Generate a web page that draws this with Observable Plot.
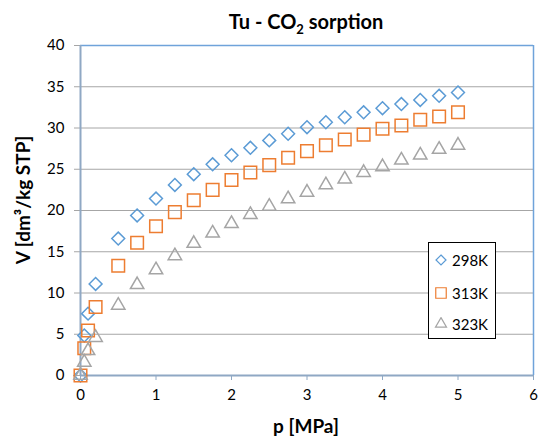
<!DOCTYPE html>
<html><head><meta charset="utf-8">
<script src="https://cdn.jsdelivr.net/npm/d3@7"></script>
<script src="https://cdn.jsdelivr.net/npm/@observablehq/plot@0.6"></script>
<style>
body{margin:0;background:#fff;font-family:Lato,"Open Sans",sans-serif;}
#wrap{position:relative;width:538px;height:437px;overflow:hidden;}
.ov{position:absolute;color:#000;font-weight:bold;white-space:nowrap;}
#legend{position:absolute;left:428px;top:242px;width:68px;height:97px;box-sizing:border-box;border:1px solid #000;background:#fff;}
.lrow{position:absolute;left:0;height:18px;width:66px;}
.lrow svg{position:absolute;left:5px;top:2px;}
.lrow span{position:absolute;left:23px;top:0;font-size:15px;line-height:18px;color:#000;}
</style></head><body>
<div id="wrap"></div>
<script>
// ---- data ----
const pressure = [0, 0.05, 0.1, 0.2, 0.5, 0.75, 1, 1.25, 1.5, 1.75, 2, 2.25, 2.5, 2.75, 3, 3.25, 3.5, 3.75, 4, 4.25, 4.5, 4.75, 5];
const v298 = [0, 4.85, 7.5, 11.1, 16.6, 19.4, 21.45, 23.1, 24.4, 25.6, 26.7, 27.6, 28.5, 29.3, 30.1, 30.7, 31.3, 31.9, 32.4, 32.9, 33.4, 33.9, 34.3];
const v313 = [0, 3.3, 5.45, 8.3, 13.3, 16.1, 18.1, 19.8, 21.25, 22.5, 23.7, 24.6, 25.5, 26.4, 27.2, 27.9, 28.6, 29.2, 29.9, 30.3, 31.0, 31.4, 31.9];
const v323 = [0, 1.6, 3.0, 4.6, 8.5, 11.0, 12.8, 14.5, 16.0, 17.25, 18.4, 19.5, 20.5, 21.4, 22.2, 23.1, 23.8, 24.6, 25.3, 26.1, 26.7, 27.4, 27.9];
const seriesNames = ["298K", "313K", "323K"];
const xTicks = [0, 1, 2, 3, 4, 5, 6];
const yTicks = [0, 5, 10, 15, 20, 25, 30, 35, 40];
const titleMain = "Tu - CO";
const titleSub = "2";
const titleEnd = " sorption";
const xLabel = "p [MPa]";
const yLabel = "V [dm³/kg STP]";

// ---- styling ----
const series = [v298, v313, v323];
const colors = ["#5B9BD5", "#ED7D31", "#A5A5A5"];
const symbols = ["diamond2", "square2", "triangle2"];
const radii = [5.8, 8.0, 6.4];
const d3Symbols = [d3.symbolDiamond2, d3.symbolSquare2, d3.symbolTriangle2];
const legendSizes = [64, 140, 87];

const chart = Plot.plot({
  width: 538,
  height: 437,
  marginLeft: 80,
  marginRight: 5,
  marginTop: 45,
  marginBottom: 62,
  style: {fontFamily: "Lato, 'Open Sans', sans-serif", fontSize: "15px", background: "#fff", overflow: "visible"},
  x: {domain: [0, 6]},
  y: {domain: [0, 40]},
  marks: [
    Plot.ruleY(yTicks.filter(v => v > 0 && v < 40), {stroke: "#A6A6A6", strokeWidth: 1}),
    Plot.ruleY([40], {stroke: "#6FA3DA", strokeWidth: 1.5}),
    Plot.ruleX([6], {stroke: "#6FA3DA", strokeWidth: 1.5}),
    Plot.axisY({ticks: yTicks, tickFormat: d => String(d), tickSize: 6, tickPadding: 10, label: null, stroke: "#A6A6A6", fill: "#000", fontSize: 15}),
    Plot.axisX({ticks: xTicks, tickFormat: d => String(d), tickSize: 5, tickPadding: 9, label: null, stroke: "#8FA8C4", fill: "#000", fontSize: 15}),
    Plot.ruleX([0], {stroke: "#8FA8C4", strokeWidth: 2}),
    Plot.ruleY([0], {stroke: "#8FA8C4", strokeWidth: 2}),
    ...series.map((vals, i) => Plot.dot(pressure, {
      x: pressure, y: vals, symbol: symbols[i], r: radii[i],
      stroke: colors[i], fill: "none", strokeWidth: 1.5
    }))
  ]
});

const wrap = document.getElementById("wrap");
wrap.appendChild(chart);

// title
const t = document.createElement("div");
t.className = "ov";
t.style.cssText = "left:306px;top:11px;font-size:20px;line-height:20px;transform:translateX(-50%);";
t.innerHTML = `${titleMain}<span style="font-size:13px;position:relative;top:5px;">${titleSub}</span>${titleEnd}`;
wrap.appendChild(t);

// x label
const xl = document.createElement("div");
xl.className = "ov";
xl.style.cssText = "left:306px;top:416px;font-size:19px;line-height:19px;transform:translateX(-50%);";
xl.textContent = xLabel;
wrap.appendChild(xl);

// y label
const yl = document.createElement("div");
yl.className = "ov";
yl.style.cssText = "left:22px;top:200px;font-size:19px;line-height:19px;transform:translate(-50%,-50%) rotate(-90deg);";
yl.textContent = yLabel;
wrap.appendChild(yl);

// legend
const lg = document.createElement("div");
lg.id = "legend";
const rowCenters = [17, 50, 81];
seriesNames.forEach((name, i) => {
  const row = document.createElement("div");
  row.className = "lrow";
  row.style.top = (rowCenters[i] - 9) + "px";
  const path = d3.symbol(d3Symbols[i], legendSizes[i])();
  row.innerHTML = `<svg width="14" height="14" viewBox="-7 -7 14 14"><path d="${path}" fill="none" stroke="${colors[i]}" stroke-width="1.2"/></svg><span>${name}</span>`;
  lg.appendChild(row);
});
wrap.appendChild(lg);
</script>
</body></html>
